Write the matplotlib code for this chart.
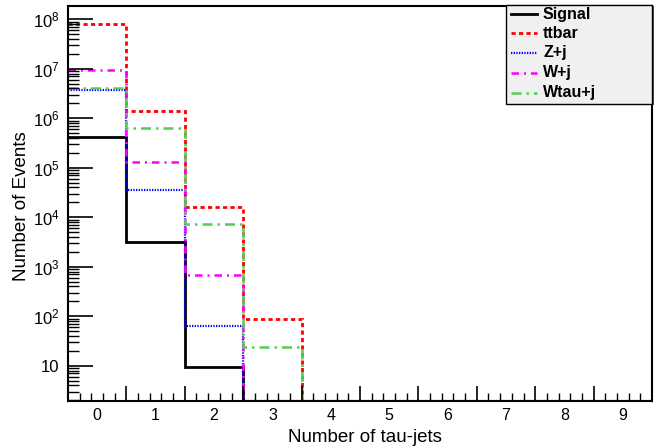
import numpy as np
import matplotlib
matplotlib.use("Agg")
import matplotlib.pyplot as plt
from matplotlib.patches import Rectangle
from matplotlib.lines import Line2D
from matplotlib.ticker import FixedLocator, LogLocator, NullFormatter

plt.rcParams['font.family'] = ['Liberation Sans', 'DejaVu Sans']
plt.rcParams['mathtext.fontset'] = 'custom'
plt.rcParams['mathtext.rm'] = 'Liberation Sans'
plt.rcParams['mathtext.it'] = 'Liberation Sans'

# bins: number of tau-jets 0..9
bin_labels = ['0', '1', '2', '3', '4', '5', '6', '7', '8', '9']
edges = np.arange(-0.5, 10.0, 1.0)

signal = [4.2e5, 3.2e3, 9.5, 0, 0, 0, 0, 0, 0, 0]
ttbar = [8.0e7, 1.4e6, 1.6e4, 90, 0, 0, 0, 0, 0, 0]
zj = [3.7e6, 3.5e4, 65, 0, 0, 0, 0, 0, 0, 0]
wj = [9.4e6, 1.3e5, 690, 0, 0, 0, 0, 0, 0, 0]
wtauj = [4.1e6, 6.3e5, 7.3e3, 24, 0, 0, 0, 0, 0, 0]

names = ['Signal', 'ttbar', 'Z+j', 'W+j', 'Wtau+j']
series = [signal, ttbar, zj, wj, wtauj]
colors = ['black', '#ff0000', '#0000ff', '#ff00ff', '#55cc55']
styles = ['-', (0, (1.5, 1.2)), (0, (0.6, 0.6)), (0, (3, 2, 0.8, 2)), (0, (4, 2, 1, 2))]
widths = [2.0, 2.0, 1.6, 1.8, 1.8]

ymin, ymax = 1.94, 1.88e8

fig = plt.figure(figsize=(6.63, 4.48), dpi=100)
ax = fig.add_axes([68 / 663, 1 - 401 / 448, (652 - 68) / 663, (401 - 5.7) / 448])

for vals, c, ls, lw in zip(series, colors, styles, widths):
    v = np.array(vals, dtype=float)
    v = np.where(v > 0, v, ymin * 0.98)
    ax.stairs(v, edges, baseline=None, color=c, linestyle=ls, linewidth=lw)

ax.set_yscale('log')
ax.set_xlim(-0.5, 9.5)
ax.set_ylim(ymin, ymax)

for s in ax.spines.values():
    s.set_linewidth(1.5)

# x ticks: majors at bin edges, fine minors, labels at bin centres
ax.xaxis.set_major_locator(FixedLocator(edges))
ax.xaxis.set_minor_locator(FixedLocator(np.round(np.arange(-0.5, 9.51, 0.2), 3)))
ax.tick_params(axis='x', which='major', direction='in', length=11, width=1.2,
               labelbottom=False, top=False)
ax.tick_params(axis='x', which='minor', direction='in', length=5.5, width=1.0, top=False)
sec = ax.secondary_xaxis('bottom')
sec.set_xticks(np.arange(10), bin_labels)
sec.tick_params(length=0, pad=5, labelsize=11.5)
sec.spines['bottom'].set_visible(False)

# y ticks
decades = [10, 1e2, 1e3, 1e4, 1e5, 1e6, 1e7, 1e8]
ylabels = ['10'] + ['$10^{%d}$' % k for k in range(2, 9)]
ax.set_yticks(decades, ylabels)
ax.yaxis.set_minor_locator(LogLocator(base=10, subs=np.arange(2, 10), numticks=20))
ax.yaxis.set_minor_formatter(NullFormatter())
ax.tick_params(axis='y', which='major', direction='in', length=18, width=1.2,
               labelsize=12, pad=6, right=False)
ax.tick_params(axis='y', which='minor', direction='in', length=8, width=1.0, right=False)

fig.text(442 / 663, 1 - 437 / 448, 'Number of tau-jets', ha='right', va='center', fontsize=13.5)
fig.text(22 / 663, 1 - 206 / 448, 'Number of Events', ha='center', va='center',
         rotation=90, fontsize=13.5)

# legend box in ROOT style
lx0, lx1, ly0, ly1 = 506, 652, 5, 104
fig.patches.append(Rectangle((lx0 / 663 + 2 / 663, 1 - (ly1 + 1.5) / 448),
                             (lx1 - lx0) / 663, (ly1 - ly0) / 448,
                             transform=fig.transFigure, facecolor='#555555',
                             edgecolor='none', zorder=5))
fig.patches.append(Rectangle((lx0 / 663, 1 - ly1 / 448), (lx1 - lx0) / 663, (ly1 - ly0) / 448,
                             transform=fig.transFigure, facecolor='#f0f0f0',
                             edgecolor='black', linewidth=1.0, zorder=6))
rows = [14, 33.5, 53, 73, 93]
for name, c, ls, lw, ry in zip(names, colors, styles, widths, rows):
    yy = 1 - ry / 448
    fig.lines.append(Line2D([511 / 663, 537 / 663], [yy, yy], transform=fig.transFigure,
                            color=c, linestyle=ls, linewidth=lw, zorder=7))
    fig.text(543 / 663, yy, name, ha='left', va='center', fontsize=11.5,
             fontweight='bold', zorder=8)

fig.savefig('out.png', dpi=100)
